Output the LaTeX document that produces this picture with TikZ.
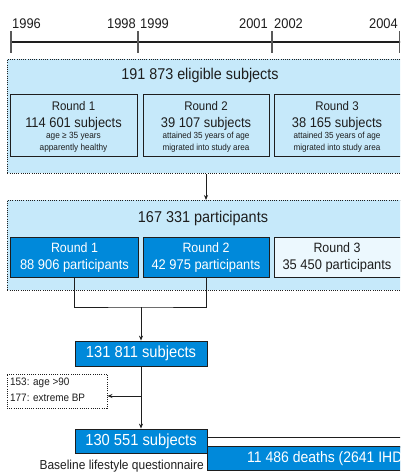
\documentclass[tikz,border=0pt]{standalone}
\usepackage{fontspec}
\setmainfont[FakeStretch=0.92]{Liberation Sans}
\usetikzlibrary{arrows.meta}
\definecolor{lblue}{RGB}{198,233,250}
\definecolor{dblue}{RGB}{0,137,218}
\definecolor{pale}{RGB}{236,248,254}
\definecolor{ink}{RGB}{30,30,30}
\newcommand\fsz[1]{\fontsize{#1}{#1}\selectfont}
\begin{document}
\begin{tikzpicture}[x=1pt,y=-1pt,
  outer/.style={draw=ink, fill=lblue, line width=0.9pt, dash pattern=on 1pt off 1.2pt, inner sep=0pt},
  inbox/.style={draw=ink, fill=lblue, line width=0.8pt, inner sep=0pt},
  bbox/.style={draw=ink, fill=dblue, line width=0.8pt, inner sep=0pt, text=white},
  pbox/.style={draw=ink, fill=pale, line width=0.8pt, inner sep=0pt},
  txt/.style={inner sep=0pt, text=ink},
  wtxt/.style={inner sep=0pt, text=white},
  conn/.style={draw=ink, line width=0.9pt},
  arr/.style={conn, -{Stealth[length=5pt,width=4pt]}},
  tick/.style={draw=black!65, line width=1.4pt}
]
\useasboundingbox (0,0) rectangle (400,474);
\clip (0,0) rectangle (400,474);
% timeline
\coordinate (ta) at (11,42);
\coordinate (tb) at (402,42);
\draw[line width=1.4pt, draw=ink] (ta) -- (tb);
\foreach \x in {11,138,272,399.5} \draw[tick] (\x,31) -- (\x,53);
\node[txt, anchor=base west] (y96) at (12,28) {\fsz{14}1996};
\node[txt, anchor=base east] (y98) at (136,28) {\fsz{14}1998};
\node[txt, anchor=base west] (y99) at (140,28) {\fsz{14}1999};
\node[txt, anchor=base east] (y01) at (268,28) {\fsz{14}2001};
\node[txt, anchor=base west] (y02) at (274,28) {\fsz{14}2002};
\node[txt, anchor=base east] (y04) at (398,28) {\fsz{14}2004};
% box 1
\node[outer, anchor=north west, minimum width=420, minimum height=114] (b1) at (7,59) {};
\node[txt] (t1) at (200,75) {\fsz{15.6}191 873 eligible subjects};
\node[inbox, minimum width=127, minimum height=62] (r1) at (73.5,125) {};
\node[inbox, minimum width=126, minimum height=62] (r2) at (206,125) {};
\node[inbox, minimum width=127, minimum height=62] (r3) at (337.5,125) {};
\node[txt] (r1a) at (73.5,106.5) {\fsz{12.5}Round 1};
\node[txt] (r2a) at (206,106.5) {\fsz{12.5}Round 2};
\node[txt] (r3a) at (337,106.5) {\fsz{12.5}Round 3};
\node[txt] (r1b) at (73.5,124) {\fsz{14}114 601 subjects};
\node[txt] (r1c) at (73.5,136.5) {\fsz{9}age ≥ 35 years};
\node[txt] (r1d) at (73.5,148.5) {\fsz{9}apparently healthy};
\node[txt] (r2b) at (206,124) {\fsz{14}39 107 subjects};
\node[txt] (r2c) at (206,136.5) {\fsz{8.8}attained 35 years of age};
\node[txt] (r2d) at (206,148.5) {\fsz{8.8}migrated into study area};
\node[txt] (r3b) at (337,124) {\fsz{14}38 165 subjects};
\node[txt] (r3c) at (337,136.5) {\fsz{8.8}attained 35 years of age};
\node[txt] (r3d) at (337,148.5) {\fsz{8.8}migrated into study area};
% box 2
\node[outer, anchor=north west, minimum width=420, minimum height=90] (b2) at (7,200) {};
\draw[arr] (b1.south -| r2.south) -- (b2.north -| r2.south);
\node[txt] (t2) at (203,218) {\fsz{15.7}167 331 participants};
\node[bbox, minimum width=128, minimum height=40] (p1) at (74.5,257) {};
\node[bbox, minimum width=126, minimum height=40] (p2) at (206,257) {};
\node[pbox, minimum width=128, minimum height=40] (p3) at (338,257) {};
\node[wtxt] (p1a) at (74.5,248) {\fsz{13.5}Round 1};
\node[wtxt] (p1b) at (74.5,266) {\fsz{14}88 906 participants};
\node[wtxt] (p2a) at (206,248) {\fsz{13.5}Round 2};
\node[wtxt] (p2b) at (206,266) {\fsz{14}42 975 participants};
\node[txt] (p3a) at (337,248) {\fsz{13.5}Round 3};
\node[txt] (p3b) at (337,266) {\fsz{14}35 450 participants};
% flow
\node[bbox, minimum width=132, minimum height=25] (s1) at (141,353.5) {\fsz{16}131 811 subjects};
\coordinate (j) at (141,307);
\draw[conn] (p1.south) |- (j) -| (p2.south);
\draw[arr] (j) -- (s1.north);
\node[draw=ink, fill=white, line width=0.9pt, dash pattern=on 1pt off 1.2pt, minimum width=100, minimum height=34, inner sep=0pt] (ex) at (57,391) {};
\node[txt, anchor=west] (exa) at (10,383) {\fsz{10.8}153: age >90};
\node[txt, anchor=west] (exb) at (10,397.5) {\fsz{10.8}177: extreme BP};
\node[bbox, minimum width=132, minimum height=24] (s2) at (141,441) {\fsz{16}130 551 subjects};
\draw[arr] (s1.south) -- (s2.north);
\coordinate (k) at (141,396);
\draw[arr] (k) -- (ex.east |- k);
\node[txt, anchor=east] (cap) at (204,466) {\fsz{13}Baseline lifestyle questionnaire};
% deaths
\node[draw=ink, fill=white, line width=0.8pt, anchor=north west, minimum width=210, minimum height=9.5, inner sep=0pt] (fu) at (207,437) {};
\node[bbox, anchor=north west, minimum width=210, minimum height=24, inner sep=0pt] (dd) at (207,446) {};
\node[wtxt, anchor=west] (ddt) at (247,458.5) {\fsz{15.2}11 486 deaths (2641 IHD};
\end{tikzpicture}
\end{document}
